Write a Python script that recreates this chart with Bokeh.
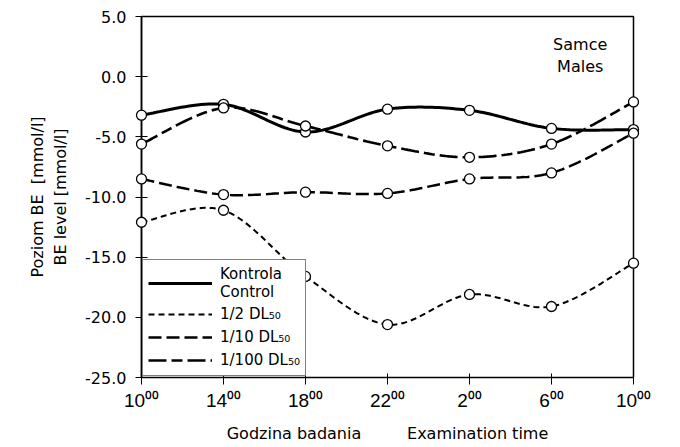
import numpy as np
from bokeh.plotting import figure
from bokeh.models import Legend, LegendItem, Label, FixedTicker, Range1d
from bokeh.embed import file_html
from bokeh.resources import INLINE

# Examination hours (x categories) and BE level readings [mmol/l]
hours = ["10⁰⁰", "14⁰⁰", "18⁰⁰", "22⁰⁰", "2⁰⁰", "6⁰⁰", "10⁰⁰"]
control = [-3.2, -2.3, -4.6, -2.7, -2.8, -4.3, -4.4]
half_dl50 = [-12.1, -11.1, -16.6, -20.6, -18.1, -19.1, -15.5]
tenth_dl50 = [-8.5, -9.8, -9.6, -9.7, -8.5, -8.0, -4.7]
hundredth_dl50 = [-5.6, -2.6, -4.1, -5.75, -6.7, -5.6, -2.1]
y_ticks = [5, 0, -5, -10, -15, -20, -25]
y_tick_labels = ["5.0", "0.0", "-5.0", "-10.0", "-15.0", "-20.0", "-25.0"]

x_pos = list(range(len(hours)))


def smooth(xs, ys, steps=24):
    """Smoothed path through the points (cubic Bezier segments, Catmull-Rom tangents)."""
    xs = np.asarray(xs, float)
    ys = np.asarray(ys, float)
    px = np.concatenate([[xs[0]], xs, [xs[-1]]])
    py = np.concatenate([[ys[0]], ys, [ys[-1]]])
    out_x, out_y = [xs[0]], [ys[0]]
    t = np.linspace(0, 1, steps + 1)[1:]
    for i in range(1, len(px) - 2):
        p0x, p1x, p2x, p3x = px[i - 1], px[i], px[i + 1], px[i + 2]
        p0y, p1y, p2y, p3y = py[i - 1], py[i], py[i + 1], py[i + 2]
        c1x, c1y = p1x + (p2x - p0x) / 6, p1y + (p2y - p0y) / 6
        c2x, c2y = p2x - (p3x - p1x) / 6, p2y - (p3y - p1y) / 6
        bx = (1 - t) ** 3 * p1x + 3 * (1 - t) ** 2 * t * c1x + 3 * (1 - t) * t ** 2 * c2x + t ** 3 * p2x
        by = (1 - t) ** 3 * p1y + 3 * (1 - t) ** 2 * t * c1y + 3 * (1 - t) * t ** 2 * c2y + t ** 3 * p2y
        out_x.extend(bx)
        out_y.extend(by)
    return out_x, out_y


FONT = "DejaVu Sans"

p = figure(width=680, height=447, output_backend="svg", toolbar_location=None,
           x_range=Range1d(0, len(hours) - 1), y_range=Range1d(-25, 5),
           min_border_left=141, min_border_right=47, min_border_top=16, min_border_bottom=70)

p.background_fill_color = "white"
p.border_fill_color = "white"
p.outline_line_color = "black"
p.outline_line_width = 1.5
p.xgrid.visible = False
p.ygrid.visible = False

# y axis
p.yaxis.ticker = FixedTicker(ticks=y_ticks)
p.yaxis.major_label_overrides = dict(zip(y_ticks, y_tick_labels))
p.yaxis.minor_tick_line_color = None
p.yaxis.major_tick_in = 6
p.yaxis.major_tick_out = 6
p.yaxis.major_tick_line_color = "black"
p.yaxis.axis_line_color = "black"
p.yaxis.axis_line_width = 1.5
p.yaxis.major_label_standoff = 9
p.yaxis.major_label_text_font = FONT
p.yaxis.major_label_text_font_size = "16px"
p.yaxis.major_label_text_color = "black"
p.yaxis.axis_label = "Poziom BE\u00a0\u00a0[mmol/l]\nBE level [mmol/l]"
p.yaxis.axis_label_text_font = FONT
p.yaxis.axis_label_text_font_size = "16px"
p.yaxis.axis_label_text_font_style = "normal"
p.yaxis.axis_label_text_color = "black"
p.yaxis.axis_label_standoff = 12

# x axis
p.xaxis.ticker = FixedTicker(ticks=x_pos)
p.xaxis.major_label_overrides = dict(zip(x_pos, hours))
p.xaxis.minor_tick_line_color = None
p.xaxis.major_tick_in = 4
p.xaxis.major_tick_out = 7
p.xaxis.major_tick_line_color = "black"
p.xaxis.axis_line_color = "black"
p.xaxis.axis_line_width = 1
p.xaxis.major_label_standoff = 5
p.xaxis.major_label_text_font = "Liberation Sans"
p.xaxis.major_label_text_font_size = "19px"
p.xaxis.major_label_text_color = "black"
p.xaxis.axis_label = "Godzina badania" + "\u00a0" * 9 + "Examination time"
p.xaxis.axis_label_text_font = FONT
p.xaxis.axis_label_text_font_size = "16px"
p.xaxis.axis_label_text_font_style = "normal"
p.xaxis.axis_label_text_color = "black"
p.xaxis.axis_label_standoff = 10

series = [
    ("Kontrola\nControl", control, None, 3),
    ("1/2 DL₅₀", half_dl50, "6 4", 2),
    ("1/10 DL₅₀", tenth_dl50, "13 5", 2.5),
    ("1/100 DL₅₀", hundredth_dl50, "18 5 11 5", 2.6),
]

items = []
for label, vals, dash, lw in series:
    sx, sy = smooth(x_pos, vals)
    kw = dict(line_color="black", line_width=lw)
    if dash:
        kw["line_dash"] = dash
    r = p.line(sx, sy, **kw)
    items.append(LegendItem(label=label, renderers=[r]))

for label, vals, dash, lw in series:
    m = p.scatter(x_pos, vals, marker="circle", size=10, fill_color="white",
                  line_color="black", line_width=1.3)
    m.level = "overlay"

legend = Legend(items=items, location="bottom_left")
legend.margin = 1
legend.padding = 5
legend.spacing = 3
legend.glyph_width = 64
legend.glyph_height = 20
legend.label_height = 20
legend.label_standoff = 8
legend.label_text_font = FONT
legend.label_text_font_size = "15px"
legend.label_text_line_height = 1.15
legend.label_text_color = "black"
legend.border_line_color = "black"
legend.border_line_width = 1.5
legend.background_fill_color = "white"
legend.background_fill_alpha = 1.0
p.add_layout(legend, "center")

p.add_layout(Label(x=5.35, y=3.5, text="Samce\nMales", text_align="center",
                   text_baseline="top", text_font=FONT, text_font_size="16px",
                   text_color="black"))

open("out.html", "w").write(file_html(p, INLINE))
